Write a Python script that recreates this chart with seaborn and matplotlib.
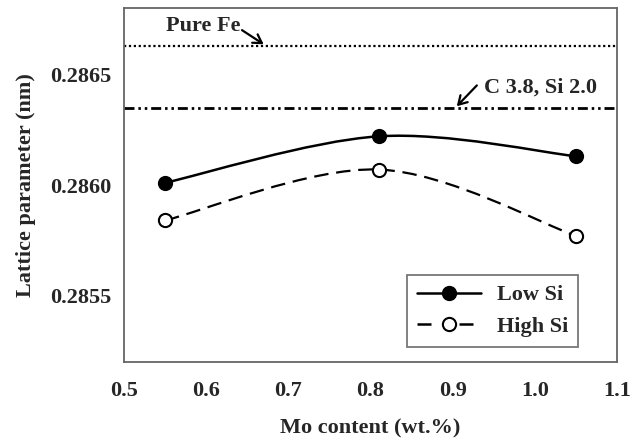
import numpy as np
import pandas as pd
import matplotlib
matplotlib.use("Agg")
import matplotlib.pyplot as plt
from matplotlib.path import Path
from matplotlib.patches import PathPatch
from matplotlib.lines import Line2D
import seaborn as sns

# ---- data ----
mo_content = [0.55, 0.81, 1.05]
low_si = [0.28601, 0.28622, 0.28613]
high_si = [0.28584, 0.28607, 0.28577]
pure_fe = 0.28663
c38_si20 = 0.28635
x_ticks = [0.5, 0.6, 0.7, 0.8, 0.9, 1.0, 1.1]
y_ticks = [0.2855, 0.2860, 0.2865]

sns.set_theme(style="white")
plt.rcParams['font.family'] = ['Liberation Serif', 'DejaVu Serif']
plt.rcParams['font.weight'] = 'bold'

FS = 16

fig = plt.figure(figsize=(6.43, 4.44), dpi=100)
ax = fig.add_axes([124/643, 1-362/444, (617-124)/643, (362-8)/444])

df = pd.DataFrame({
    "Mo": mo_content * 2,
    "a": low_si + high_si,
    "series": ["Low Si"] * 3 + ["High Si"] * 3,
})


def smooth_path(xs, ys, t=1/6):
    pts = np.column_stack([xs, ys]).astype(float)
    n = len(pts)
    verts = [pts[0]]
    codes = [Path.MOVETO]
    for i in range(n - 1):
        p0 = pts[i - 1] if i > 0 else pts[i]
        p1 = pts[i]
        p2 = pts[i + 1]
        p3 = pts[i + 2] if i + 2 < n else pts[i + 1]
        c1 = p1 + (p2 - p0) * t
        c2 = p2 - (p3 - p1) * t
        verts += [c1, c2, p2]
        codes += [Path.CURVE4] * 3
    return Path(verts, codes)


ax.add_patch(PathPatch(smooth_path(mo_content, low_si), fill=False,
                       edgecolor='black', lw=1.8, transform=ax.transData, zorder=2))
ax.add_patch(PathPatch(smooth_path(mo_content, high_si), fill=False,
                       edgecolor='black', lw=1.6, linestyle=(0, (6.5, 3.5)),
                       transform=ax.transData, zorder=2))

sns.scatterplot(data=df[df.series == "Low Si"], x="Mo", y="a", ax=ax,
                marker='o', s=95, color='black', edgecolor='black',
                linewidth=1.2, zorder=3, legend=False)
sns.scatterplot(data=df[df.series == "High Si"], x="Mo", y="a", ax=ax,
                marker='o', s=90, color='white', edgecolor='black',
                linewidth=1.5, zorder=3, legend=False)

ax.axhline(pure_fe, color='black', lw=1.6, linestyle=(0, (1, 1.2)), zorder=1)
ax.axhline(c38_si20, color='black', lw=2.0,
           linestyle=(0, (3.6, 1.4, 0.9, 1.4, 0.9, 1.4)), zorder=1)

arrow = dict(arrowstyle='->,head_length=0.5,head_width=0.3', color='black',
             lw=1.6, shrinkA=0, shrinkB=0)
ax.text(0.642, 0.28672, "Pure Fe", ha='right', va='center', fontsize=FS,
        fontweight='bold')
ax.annotate("", xy=(0.670, pure_fe + 0.000006), xytext=(0.6436, 0.28670),
            arrowprops=arrow)
ax.text(0.938, 0.28644, "C 3.8, Si 2.0", ha='left', va='center', fontsize=FS,
        fontweight='bold')
ax.annotate("", xy=(0.905, c38_si20 + 0.000006), xytext=(0.9294, 0.28645),
            arrowprops=arrow)

ax.set_xlim(0.5, 1.1)
ax.set_ylim(0.2852, 0.2868)
ax.set_xticks(x_ticks)
ax.set_xticklabels([f"{v:.1f}" for v in x_ticks])
ax.set_yticks(y_ticks)
ax.set_yticklabels([f"{v:.4f}" for v in y_ticks])
ax.tick_params(axis='both', which='both', direction='out', length=5, width=1.2,
               color='#555555', labelsize=FS)
ax.tick_params(axis='x', pad=9)
ax.tick_params(axis='y', pad=4)
for lbl in ax.get_xticklabels() + ax.get_yticklabels():
    lbl.set_fontweight('bold')
for s in ax.spines.values():
    s.set_color('#666666')
    s.set_linewidth(1.3)

ax.set_xlabel("Mo content (wt.%)", fontsize=FS, fontweight='bold', labelpad=12)
ax.set_ylabel("Lattice parameter (nm)", fontsize=FS, fontweight='bold', labelpad=10)

handles = [
    Line2D([], [], color='black', lw=1.8, marker='o', markersize=10,
           markerfacecolor='black', markeredgecolor='black'),
    Line2D([], [], color='black', lw=1.8, linestyle=(0, (5.6, 11.2)), marker='o',
           markersize=9.5, markerfacecolor='white', markeredgecolor='black',
           markeredgewidth=1.5),
]
leg = ax.legend(handles, ["Low Si", "High Si"], loc='lower right',
                bbox_to_anchor=((578-124)/493, (362-347)/354),
                frameon=True, fancybox=False, edgecolor='#555555',
                fontsize=FS, handlelength=2.9, borderpad=0.45,
                labelspacing=0.5, handletextpad=0.7, borderaxespad=0)
leg.get_frame().set_linewidth(1.3)
for t in leg.get_texts():
    t.set_fontweight('bold')

fig.savefig("out.png", dpi=100)
